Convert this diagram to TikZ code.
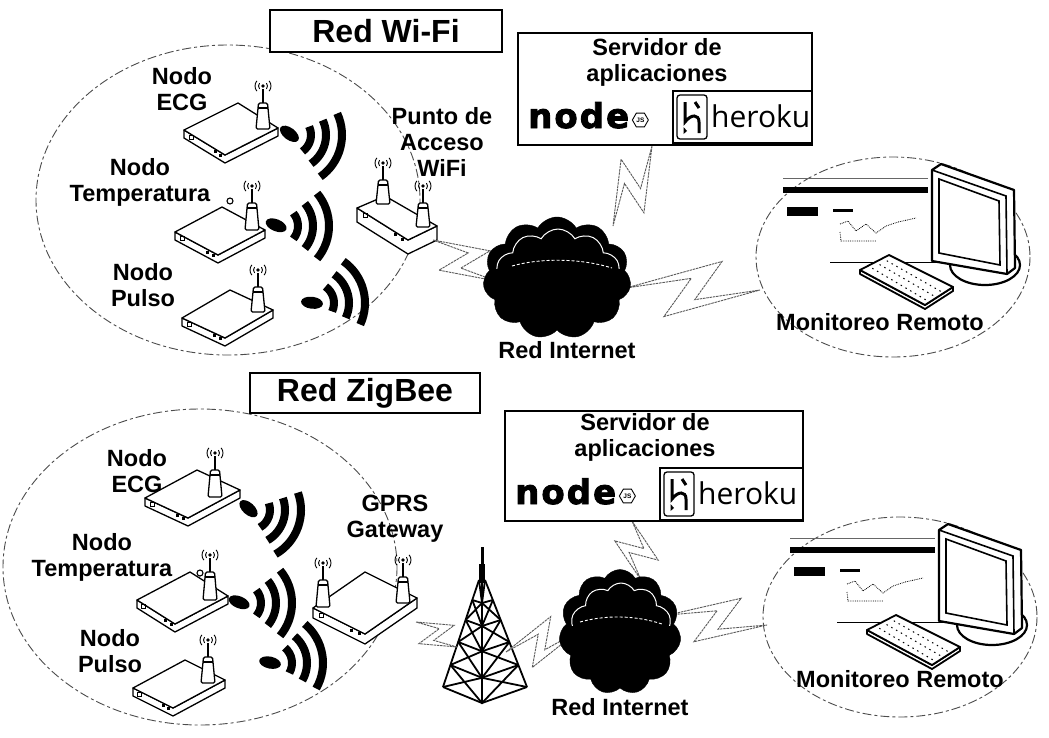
\documentclass[tikz,border=0pt]{standalone}
\usepackage{fontspec}
\setmainfont{Liberation Sans}
\newfontfamily\logofont{DejaVu Sans}[BoldFeatures={FakeBold=2.5}]
\newfontfamily\herokufont{Open Sans}
\usetikzlibrary{calc,shapes.symbols,shapes.geometric}

\tikzset{
  lbl/.style={font=\fontsize{23.5}{26}\selectfont\bfseries, align=center, inner sep=0pt},
  ttl/.style={draw, fill=white, line width=1.5pt, font=\fontsize{32}{36}\selectfont\bfseries, inner sep=0pt},
  zone/.style={draw=black!70, line width=0.9pt, dash pattern=on 9pt off 3pt on 3pt off 3pt},
  dev/.style={draw=black, line width=1.3pt, fill=white, line join=round},
  sig/.style={line width=0.9pt},
  boltline/.style={draw=black!65, line width=0.9pt, fill=white, dash pattern=on 2.5pt off 0.8pt, line join=miter},
  mon/.style={draw=black, line width=2.2pt, line join=round},
  srv/.style={draw, line width=1.3pt, fill=white, inner sep=0pt},
  cloudy/.style={cloud, cloud puffs=11, cloud puff arc=120, cloud ignores aspect, fill=black, draw=black, inner sep=0pt},
}

% zig-zag radio link between two named points, #3 = half width
\newcommand\bolt[3]{%
  \filldraw[boltline] (#1)
    -- ($(#1)!0.714!(#2)!#3!90:(#2)$)
    -- ($(#1)!0.514!(#2)!0.38*#3!-90:(#2)$)
    -- (#2)
    -- ($(#1)!0.286!(#2)!#3!-90:(#2)$)
    -- ($(#1)!0.486!(#2)!0.38*#3!90:(#2)$)
    -- cycle;}

% flat box seen from above: left, back, right, front corners of the lid, height
\newcommand\sensorbox[5]{%
  \filldraw[dev] (#1) -- (#4) -- (#3) -- ($(#3)+(0,#5)$) -- ($(#4)+(0,#5)$) -- ($(#1)+(0,#5)$) -- cycle;
  \filldraw[dev] (#1) -- (#2) -- (#3) -- (#4) -- cycle;
  \draw[line width=0.8pt] ($(#1)!0.12!(#4)+(0,2)$) rectangle ++(4,4);
  \fill ($(#1)!0.72!(#4)+(0,2)$) rectangle ++(3,3);
  \fill ($(#1)!0.86!(#4)+(0,2)$) rectangle ++(3,3);}

% small radio symbol
\newcommand\signal[2]{%
  \begin{scope}[shift={(#1,#2)}]
    \fill (0,0) circle (1.8);
    \draw[sig] (40:4.5) arc (40:-40:4.5) (40:8) arc (40:-40:8)
               (140:4.5) arc (140:220:4.5) (140:8) arc (140:220:8);
  \end{scope}}

% antenna: x, base y, top y
\newcommand\aerial[3]{%
  \filldraw[dev, line width=1.3pt, rounded corners=1.5pt] (#1-7,#2) -- (#1-4.5,#3) -- (#1+4.5,#3) -- (#1+7,#2) -- cycle;
  \draw[line width=1.1pt] (#1-5,#3+5) -- (#1+5,#3+5);
  \draw[line width=1.3pt] (#1,#3) -- (#1,#3-14);
  \signal{#1}{#3-17}}

% wireless emission: x, y, direction
\newcommand\wave[3]{%
  \begin{scope}[shift={(#1,#2)}, rotate=#3]
    \fill[rotate=-22] (-2,0) ellipse (11 and 6);
    \foreach \rr in {20,35,51} \draw[line width=8pt] (-40:\rr) arc (-40:40:\rr);
  \end{scope}}

% node.js mark: name, x, baseline y
\newcommand\nodelogo[3]{%
  \node[font=\logofont\bfseries\fontsize{34}{34}\selectfont, inner sep=0pt, anchor=base west] (#1) at (#2,#3) {n\hspace{2pt}o\hspace{2pt}d\hspace{2pt}e};
  \node[regular polygon, regular polygon sides=6, draw, line width=0.9pt, minimum size=16pt, inner sep=0pt,
        font=\fontsize{6.5}{6.5}\selectfont\bfseries] (#1js) at ($(#1.base east)+(11,-8)$) {JS};}

% heroku mark: name, x, y of the badge corner
\newcommand\herokulogo[3]{%
  \draw[line width=1.3pt, rounded corners=3pt] (#2,#3) rectangle ++(30,44);
  \draw[line width=3pt] (#2+8,#3+7) -- (#2+8,#3+27) .. controls (#2+14,#3+19) and (#2+22,#3+19) .. (#2+22,#3+27) -- (#2+22,#3+38);
  \draw[line width=3pt] (#2+18,#3+7) -- (#2+22,#3+13);
  \fill (#2+6.5,#3+32) -- (#2+10,#3+36) -- (#2+6.5,#3+39) -- cycle;
  \node[font=\herokufont\fontsize{30}{30}\selectfont, anchor=west, inner sep=0pt] (#1) at (#2+34,#3+21) {heroku};}

% desk with monitor and keyboard, shifted by #1,#2
\newcommand\workstation[2]{%
  \begin{scope}[shift={(#1,#2)}]
    \draw[black!60, line width=0.7pt] (783,178) -- (928,178);
    \fill (783,187) rectangle (928,193);
    \fill (787,207) rectangle (818,216);
    \fill (833,209) rectangle (853,212);
    \draw[line width=0.8pt, densely dotted] (840,224) -- (848,221) -- (856,231) -- (866,224) -- (876,233) -- (886,226) -- (898,222) -- (916,218);
    \draw[line width=0.8pt, densely dotted] (840,232) -- (841,241) -- (876,241);
    \draw[line width=1pt] (830,262) -- (945,262);
    \filldraw[mon, fill=white] (985,265) ellipse (35 and 20);
    \filldraw[mon, fill=white] (932,170) -- (941,164) -- (1014,190) -- (1015,268) -- (1007,274) -- (932,261) -- cycle;
    \draw[line width=1.6pt] (932,170) -- (1006,196) -- (1007,274);
    \draw[line width=1.6pt] (939,179) -- (999,201) -- (1000,265) -- (939,253) -- cycle;
    \filldraw[mon, line width=1.8pt, fill=white] (860,270) -- (860,274) -- (925,309) -- (953,291) -- (953,287) -- (925,305) -- cycle;
    \filldraw[mon, line width=1.8pt, fill=white] (860,270) -- (889,255) -- (953,287) -- (925,305) -- cycle;
    \foreach \f in {0.25,0.5,0.75}
      \draw[line width=1pt, dash pattern=on 1.5pt off 4pt] ($(860,270)!\f!(889,255)+(5,2)$) -- ($(925,305)!\f!(953,287)+(-5,0)$);
  \end{scope}}

\begin{document}
\begin{tikzpicture}[x=1pt,y=-1pt]
\useasboundingbox (0,0) rectangle (1049,737);
\fill[white] (0,0) rectangle (1049,737);

% ---------- coverage areas ----------
\draw[zone] (228,200) ellipse (192 and 155);
\draw[zone] (893,257) ellipse (137 and 100);
\draw[zone] (200,567) ellipse (197 and 158);
\draw[zone] (900,617) ellipse (137 and 100);

% ---------- Wi-Fi network ----------
\node[ttl, minimum width=232pt, minimum height=42pt] (wifititle) at (386,31) {Red Wi-Fi};

\sensorbox{184,130}{238,103}{278,128}{225,155}{8}
\aerial{263}{129}{103}
\sensorbox{175,232}{222,207}{265,230}{218,255}{8}
\draw[line width=1.1pt, fill=white] (230,201) circle (3);
\aerial{252}{230}{203}
\sensorbox{182,318}{230,290}{273,310}{225,338}{8}
\aerial{258}{312}{287}

\sensorbox{357,208}{385,196}{437,226}{408,240}{14}
\aerial{383}{204}{180}
\aerial{423}{227}{203}

\wave{291}{135}{-15}
\wave{278}{226}{0}
\wave{314}{303}{15}

\node[lbl] (wecg) at (182,89) {Nodo\\ECG};
\node[lbl] (wtemp) at (140,182) {Nodo\\Temperatura};
\node[lbl] (wpulse) at (143,285) {Nodo\\Pulso};
\node[lbl] (wap) at (442,142) {Punto de\\Acceso\\WiFi};

\coordinate (apout) at (433,240);
\coordinate (net1in) at (496,281);
\coordinate (srv1out) at (652,146);
\coordinate (net1top) at (613,226);
\coordinate (net1out) at (626,288);
\coordinate (mon1in) at (760,290);
\bolt{apout}{net1in}{22pt}
\bolt{srv1out}{net1top}{22pt}
\bolt{net1out}{mon1in}{28pt}

\node[cloudy, minimum width=148pt, minimum height=122pt] (net1) at (557,278) {};
\begin{scope}
  \clip (470,200) rectangle (650,268);
  \node[cloud, cloud puffs=11, cloud puff arc=120, cloud ignores aspect, draw=white, line width=1pt,
        minimum width=130pt, minimum height=108pt] (net1rim) at (558,283) {};
\end{scope}
\draw[white, line width=0.9pt, densely dashed] (512,266) .. controls (540,258) and (580,258) .. (612,268);
\node[lbl] (net1lbl) at (567,350) {Red Internet};

\node[srv, minimum width=294pt, minimum height=112pt] (srv1) at (665,89) {};
\node[lbl] (srv1txt) at (657,62) {Servidor de\\aplicaciones};
\node[draw, line width=1.2pt, minimum width=139pt, minimum height=52pt, inner sep=0pt] (hk1box) at (742.5,117) {};
\nodelogo{nd1}{528}{128}
\herokulogo{hk1}{677}{95}

\workstation{0}{0}
\node[lbl] (mon1lbl) at (880,322) {Monitoreo Remoto};

% ---------- ZigBee network ----------
\node[ttl, minimum width=230pt, minimum height=40pt] (zbtitle) at (365,393) {Red ZigBee};

\sensorbox{145,498}{197,470}{240,490}{188,518}{8}
\aerial{215}{497}{470}
\sensorbox{137,600}{190,572}{228,596}{175,624}{8}
\draw[line width=1.1pt, fill=white] (200,573) circle (3);
\aerial{210}{600}{572}
\sensorbox{133,688}{185,660}{225,680}{173,708}{8}
\aerial{208}{683}{657}

\sensorbox{313,608}{365,572}{417,598}{365,634}{10}
\aerial{323}{607}{580}
\aerial{403}{603}{577}

\wave{250}{510}{-20}
\wave{241}{603}{0}
\wave{272}{663}{10}

\node[lbl] (zecg) at (137,471) {Nodo\\ECG};
\node[lbl] (ztemp) at (102,557) {Nodo\\Temperatura};
\node[lbl] (zpulse) at (110,651) {Nodo\\Pulso};
\node[lbl] (zgw) at (395,519) {GPRS\\Gateway};

% transmission tower
\begin{scope}[line width=1.8pt]
  \draw[line width=3pt] (482,547) -- (482,566);
  \draw[line width=6pt] (482,564) -- (482,583);
  \draw (479,580) -- (443,687) (485,580) -- (527,687) (482,580) -- (482,703);
  \draw (472.3,600) -- (482,603) -- (492.9,600)
        (465.6,620) -- (482,626) -- (500.7,620)
        (458.2,642) -- (482,651.3) -- (509.4,642)
        (450.4,665) -- (482,677.8) -- (518.4,665)
        (443,687) -- (482,703) -- (527,687);
  \draw (479,580) -- (482,603) -- (485,580)
        (472.3,600) -- (482,626) -- (492.9,600)
        (482,603) -- (465.6,620) (482,603) -- (500.7,620)
        (465.6,620) -- (482,651.3) -- (500.7,620)
        (482,626) -- (458.2,642) (482,626) -- (509.4,642)
        (458.2,642) -- (482,677.8) -- (509.4,642)
        (482,651.3) -- (450.4,665) (482,651.3) -- (518.4,665)
        (450.4,665) -- (482,703) -- (518.4,665)
        (482,677.8) -- (443,687) (482,677.8) -- (527,687);
\end{scope}
\coordinate (tower) at (482,547);

\coordinate (gwout) at (416,622);
\coordinate (towerin) at (457,647);
\coordinate (towerout) at (506,652);
\coordinate (net2in) at (577,632);
\coordinate (srv2out) at (632,521);
\coordinate (net2top) at (641,580);
\coordinate (net2out) at (668,615);
\coordinate (mon2in) at (767,625);
\bolt{gwout}{towerin}{17pt}
\bolt{towerout}{net2in}{22pt}
\bolt{srv2out}{net2top}{20pt}
\bolt{net2out}{mon2in}{24pt}

\node[cloudy, minimum width=122pt, minimum height=125pt] (net2) at (620,632) {};
\begin{scope}
  \clip (550,560) rectangle (690,625);
  \node[cloud, cloud puffs=11, cloud puff arc=120, cloud ignores aspect, draw=white, line width=1pt,
        minimum width=106pt, minimum height=110pt] (net2rim) at (621,638) {};
\end{scope}
\draw[white, line width=0.9pt, densely dashed] (580,622) .. controls (605,615) and (635,615) .. (662,624);
\node[lbl] (net2lbl) at (620,707) {Red Internet};

\node[srv, minimum width=298pt, minimum height=110pt] (srv2) at (654,466) {};
\node[lbl] (srv2txt) at (645,437) {Servidor de\\aplicaciones};
\node[draw, line width=1.2pt, minimum width=143pt, minimum height=52pt, inner sep=0pt] (hk2box) at (731.5,494) {};
\nodelogo{nd2}{515}{504}
\herokulogo{hk2}{664}{472}

\workstation{7}{360}
\node[lbl] (mon2lbl) at (900,679) {Monitoreo Remoto};
\end{tikzpicture}
\end{document}
